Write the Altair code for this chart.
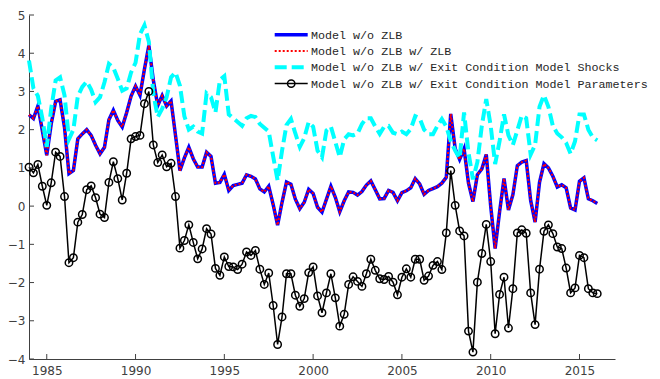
import altair as alt
import pandas as pd

# quarterly observations 1984Q1 .. 2016Q1
n_obs = 129
years = [1984 + 0.25 * i for i in range(n_obs)]

model_no_zlb = [
    2.39, 2.29, 2.62, 1.98, 1.33, 2.15, 2.74, 2.78, 2.06, 0.85,
    0.93, 1.76, 1.89, 2.00, 1.85, 1.59, 1.37, 1.54, 2.26, 2.51,
    2.24, 2.07, 2.45, 2.88, 3.14, 2.90, 3.58, 4.20, 3.30, 2.63,
    2.89, 2.62, 2.75, 1.85, 0.93, 1.26, 1.54, 1.24, 1.02, 1.02,
    1.41, 1.30, 0.60, 0.62, 0.83, 0.41, 0.54, 0.57, 0.60, 0.82,
    0.78, 0.71, 0.45, 0.37, 0.52, 0.04, -0.50, 0.10, 0.63, 0.57,
    0.18, -0.07, 0.10, 0.44, 0.33, -0.03, -0.16, 0.18, 0.52, 0.23,
    -0.15, 0.14, 0.37, 0.36, 0.29, 0.38, 0.55, 0.66, 0.43, 0.19,
    0.20, 0.41, 0.36, 0.14, 0.35, 0.40, 0.48, 0.72, 0.58, 0.31,
    0.41, 0.46, 0.51, 0.60, 0.75, 2.41, 1.50, 1.22, 1.50, 0.60,
    0.12, 0.82, 0.97, 1.35, 0.00, -1.11, -0.15, 0.72, -0.10, 0.30,
    1.06, 1.15, 1.19, 0.15, -0.42, 0.62, 1.11, 1.00, 0.78, 0.50,
    0.56, 0.48, -0.05, -0.10, 0.65, 0.74, 0.19, 0.14, 0.07,
]

model_zlb = [
    2.39, 2.29, 2.62, 1.98, 1.33, 2.15, 2.74, 2.78, 2.06, 0.85,
    0.93, 1.76, 1.89, 2.00, 1.85, 1.59, 1.37, 1.54, 2.26, 2.51,
    2.24, 2.07, 2.45, 2.88, 3.14, 2.90, 3.58, 4.20, 3.30, 2.63,
    2.89, 2.62, 2.75, 1.85, 0.93, 1.26, 1.54, 1.24, 1.02, 1.02,
    1.41, 1.30, 0.60, 0.62, 0.83, 0.41, 0.54, 0.57, 0.60, 0.82,
    0.78, 0.71, 0.45, 0.37, 0.52, 0.04, -0.50, 0.10, 0.63, 0.57,
    0.18, -0.07, 0.10, 0.44, 0.33, -0.03, -0.16, 0.18, 0.52, 0.23,
    -0.15, 0.14, 0.37, 0.36, 0.29, 0.38, 0.55, 0.66, 0.43, 0.19,
    0.20, 0.41, 0.36, 0.14, 0.35, 0.40, 0.48, 0.72, 0.58, 0.31,
    0.41, 0.46, 0.51, 0.60, 0.75, 2.41, 1.50, 1.22, 1.50, 0.60,
    0.12, 0.82, 0.97, 1.35, 0.00, -1.11, -0.15, 0.72, -0.10, 0.30,
    1.06, 1.15, 1.19, 0.15, -0.42, 0.62, 1.11, 1.00, 0.78, 0.50,
    0.56, 0.48, -0.05, -0.10, 0.65, 0.74, 0.19, 0.14, 0.07,
]

exit_shocks = [
    3.81, 3.08, 2.88, 2.30, 1.55, 2.55, 3.29, 3.37, 2.90, 1.75,
    2.00, 2.88, 3.12, 3.26, 3.05, 2.72, 2.85, 3.24, 3.72, 3.62,
    3.33, 3.02, 3.08, 3.50, 3.75, 4.50, 4.73, 4.30, 2.95, 2.33,
    2.55, 2.85, 3.37, 3.50, 3.15, 2.35, 2.00, 2.08, 1.95, 1.90,
    2.95, 2.85, 2.45, 3.30, 3.40, 2.40, 2.30, 2.20, 2.10, 2.30,
    2.36, 2.33, 2.15, 2.05, 1.95, 1.30, 0.67, 1.45, 2.12, 2.28,
    1.90, 1.55, 1.78, 2.20, 2.08, 1.45, 1.28, 1.98, 2.08, 1.68,
    1.28, 1.75, 1.88, 1.85, 1.90, 2.15, 2.30, 2.30, 2.08, 1.89,
    2.08, 2.10, 1.92, 1.88, 1.95, 1.88, 2.02, 2.35, 2.30, 2.00,
    1.88, 1.88, 2.10, 2.28, 2.08, 1.70, 1.45, 1.25, 2.45, 1.40,
    0.70, 1.15, 2.10, 2.80, 2.10, 1.10, 1.70, 2.40, 1.85, 1.60,
    1.98, 2.37, 2.30, 1.35, 1.60, 2.60, 2.90, 2.60, 2.10, 1.90,
    1.80, 1.65, 1.37, 1.70, 2.40, 2.40, 2.00, 1.80, 1.72,
]

exit_params = [
    1.02, 0.87, 1.09, 0.52, 0.02, 0.61, 1.41, 1.30, 0.25, -1.48,
    -1.35, -0.42, -0.22, 0.43, 0.53, 0.22, -0.21, -0.30, 0.62, 1.16,
    0.72, 0.16, 0.86, 1.76, 1.82, 1.85, 2.68, 3.00, 1.60, 1.14,
    1.34, 1.03, 1.12, 0.25, -1.10, -0.90, -0.49, -0.95, -1.38, -1.12,
    -0.59, -0.73, -1.63, -1.81, -1.33, -1.58, -1.59, -1.66, -1.52, -1.20,
    -1.29, -1.16, -1.65, -2.05, -1.75, -2.60, -3.62, -2.90, -1.77, -1.77,
    -2.33, -2.62, -2.42, -1.74, -1.59, -2.35, -2.79, -2.27, -1.77, -2.40,
    -3.14, -2.83, -2.05, -1.85, -1.97, -2.10, -1.77, -1.39, -1.68, -1.90,
    -1.92, -1.84, -1.99, -2.32, -1.86, -1.64, -1.86, -1.39, -1.39, -1.94,
    -1.83, -1.55, -1.45, -1.66, -0.70, 0.93, 0.02, -0.65, -0.78, -3.27,
    -3.82, -1.99, -1.24, -0.48, -1.45, -3.34, -2.31, -1.86, -3.19, -2.16,
    -0.70, -0.62, -0.71, -2.27, -3.10, -1.65, -0.66, -0.49, -0.72, -1.07,
    -1.11, -1.62, -2.27, -2.14, -1.29, -1.35, -2.16, -2.27, -2.29,
]

legend_labels = [
    "Model w/o ZLB",
    "Model w/o ZLB w/ ZLB",
    "Model w/o ZLB w/ Exit Condition Model Shocks",
    "Model w/o ZLB w/ Exit Condition Model Parameters",
]

x_ticks = [1985, 1990, 1995, 2000, 2005, 2010, 2015]
y_ticks = [-4, -3, -2, -1, 0, 1, 2, 3, 4, 5]

W, H = 586, 344
AXIS_COLOR = "#404040"
LABEL_COLOR = "#404040"

df = pd.DataFrame({
    "year": years,
    "m0": model_no_zlb,
    "m1": model_zlb,
    "m2": exit_shocks,
    "m3": exit_params,
})

xscale = alt.Scale(domain=[1984, 2017], nice=False, zero=False)
yscale = alt.Scale(domain=[-4, 5], nice=False, zero=False)

xaxis = alt.Axis(values=x_ticks, format="d", tickSize=0, labelPadding=6,
                 labelOverlap=False, labelFlush=False,
                 labelFont="DejaVu Sans", labelFontSize=12, labelColor=LABEL_COLOR,
                 domainColor=AXIS_COLOR, domainWidth=1, grid=False, title=None)
yaxis = alt.Axis(values=y_ticks, format="d", tickSize=0, labelPadding=4,
                 labelOverlap=False, labelFlush=False,
                 labelFont="DejaVu Sans", labelFontSize=12, labelColor=LABEL_COLOR,
                 domainColor=AXIS_COLOR, domainWidth=1, grid=False, title=None)


def X(field="year"):
    return alt.X(f"{field}:Q", scale=xscale, axis=xaxis)


def Y(field):
    return alt.Y(f"{field}:Q", scale=yscale, axis=yaxis)


base = alt.Chart(df)

blue = base.mark_line(color="#0000ff", strokeWidth=3.5).encode(x=X(), y=Y("m0"))
red = base.mark_line(color="#ff0000", strokeWidth=2, strokeDash=[2, 2]).encode(
    x=X(), y=Y("m1"))
cyan = base.mark_line(color="#00ffff", strokeWidth=4, strokeDash=[12, 5]).encode(
    x=X(), y=Y("m2"))
black = base.mark_line(color="#000000", strokeWidth=1.5).encode(x=X(), y=Y("m3"))
black_pts = base.mark_point(shape="circle", filled=False, color="#000000",
                            size=55, strokeWidth=1.5, opacity=1).encode(
    x=X(), y=Y("m3"))

# inward ticks (MATLAB style)
xt = alt.Chart(pd.DataFrame({"year": x_ticks})).mark_rule(
    color=AXIS_COLOR, strokeWidth=1).encode(
    x=X(), y=alt.value(H), y2=alt.value(H - 5))
yt = alt.Chart(pd.DataFrame({"m0": y_ticks})).mark_rule(
    color=AXIS_COLOR, strokeWidth=1).encode(
    y=Y("m0"), x=alt.value(0), x2=alt.value(5))

# legend
one = pd.DataFrame({"k": [0]})
lx0, lx1, ltx = 245.7, 278.7, 282.0
rows = [19.7, 36.0, 52.3, 68.6]
leg = []
leg.append(alt.Chart(one).mark_rule(color="#0000ff", strokeWidth=3.5).encode(
    x=alt.value(lx0), x2=alt.value(lx1), y=alt.value(rows[0])))
leg.append(alt.Chart(one).mark_rule(color="#ff0000", strokeWidth=2, strokeDash=[2, 2]).encode(
    x=alt.value(lx0), x2=alt.value(lx1), y=alt.value(rows[1])))
leg.append(alt.Chart(one).mark_rule(color="#00ffff", strokeWidth=4, strokeDash=[12, 5]).encode(
    x=alt.value(lx0), x2=alt.value(lx1), y=alt.value(rows[2])))
leg.append(alt.Chart(one).mark_rule(color="#000000", strokeWidth=1.5).encode(
    x=alt.value(lx0), x2=alt.value(lx1), y=alt.value(rows[3])))
leg.append(alt.Chart(one).mark_point(shape="circle", filled=False, color="#000000",
                                     size=55, strokeWidth=1.5, opacity=1).encode(
    x=alt.value((lx0 + lx1) / 2), y=alt.value(rows[3])))
for lab, ry in zip(legend_labels, rows):
    leg.append(alt.Chart(pd.DataFrame({"t": [lab]})).mark_text(
        align="left", baseline="middle", font="Liberation Mono", fontSize=11.7,
        color="#262626").encode(x=alt.value(ltx), y=alt.value(ry), text="t:N"))

chart = alt.layer(blue, red, cyan, black, black_pts, xt, yt, *leg).properties(
    width=W, height=H,
    autosize=alt.AutoSizeParams(type="none"),
    padding={"left": 21, "top": 7, "right": 36, "bottom": 18},
).configure_view(strokeWidth=0)

chart.save("out.html", embed_options={"renderer": "svg", "actions": False})
